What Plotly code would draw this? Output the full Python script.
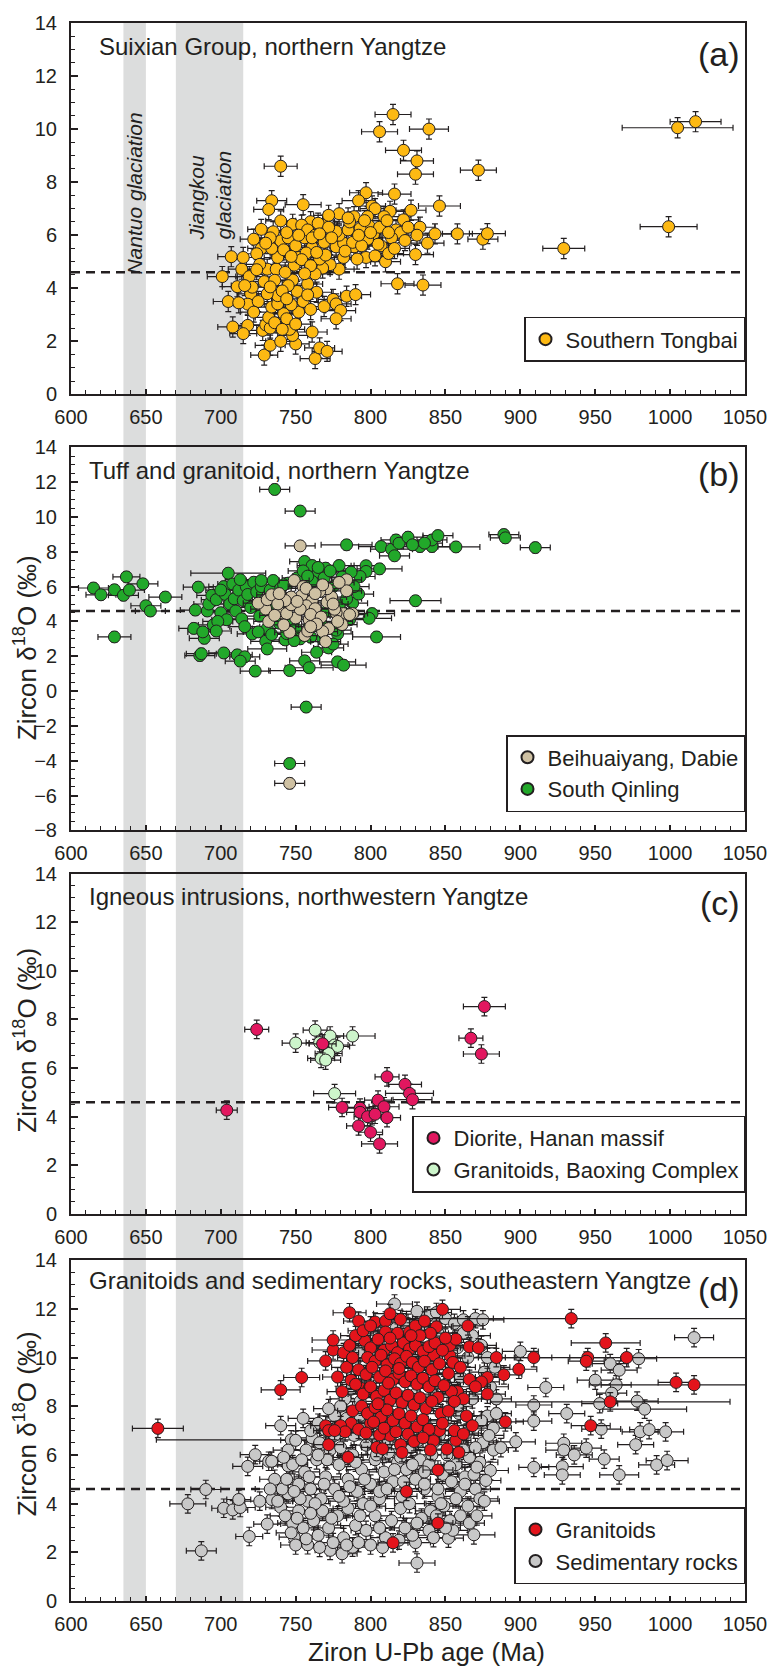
import plotly.graph_objects as go

# ---------------- DATA: (U-Pb age Ma, zircon d18O permil, age 2-sigma Ma) ----------------
d18o_err_a = 0.38
d18o_err_b = 0.30
d18o_err_c = 0.38
d18o_err_d = 0.38

southern_tongbai = [
    (815, 10.55, 12), (806, 9.9, 12), (839, 10.0, 13), (822, 9.2, 12), (831, 8.8, 11), (830, 8.3, 12),
    (740, 8.6, 11), (872, 8.45, 12), (846, 7.1, 14), (816, 7.55, 11), (797, 7.6, 11), (792, 7.3, 11),
    (755, 7.15, 12), (734, 7.3, 10), (732, 6.97, 10), (1005, 10.05, 37), (1017, 10.28, 17), (999, 6.32, 19),
    (929, 5.5, 14), (875, 5.85, 10), (878, 6.06, 12), (858, 6.05, 10), (843, 6.05, 11), (838, 5.7, 11),
    (833, 6.3, 10), (831, 6.0, 11), (827, 6.94, 10), (830, 5.27, 12), (818, 4.17, 11), (835, 4.12, 12),
    (813, 6.9, 10), (801, 7.1, 9), (803, 7.0, 10), (798, 6.7, 10), (779, 6.81, 10), (789, 6.7, 10),
    (809, 6.7, 10), (822, 6.58, 10), (799, 6.35, 10), (793, 6.25, 10), (802, 6.04, 10), (817, 6.2, 10),
    (820, 6.1, 10), (814, 5.9, 10), (807, 5.6, 10),
    (701, 4.44, 10), (707, 5.19, 9), (705, 3.5, 10), (708, 2.54, 10), (711, 4.06, 10), (714, 4.72, 9),
    (715, 5.16, 9), (722, 5.85, 9), (727, 6.22, 9), (719, 4.44, 9), (720, 3.79, 9), (718, 3.4, 9),
    (718, 2.6, 9), (715, 2.29, 9), (729, 1.48, 9), (733, 1.85, 10), (740, 2.0, 10), (750, 1.9, 9),
    (763, 1.35, 10), (766, 1.75, 10), (771, 1.62, 10), (761, 2.35, 10), (748, 2.22, 10), (746, 2.45, 10),
    (728, 2.41, 9), (730, 2.62, 9), (733, 2.5, 9), (732, 2.9, 9), (742, 3.04, 9), (744, 2.85, 9),
    (752, 3.1, 10), (734, 3.29, 9), (738, 3.41, 9), (747, 3.38, 9), (751, 3.88, 10), (764, 3.85, 10),
    (769, 3.31, 10), (775, 3.58, 10), (777, 3.41, 10), (780, 3.16, 10), (777, 2.85, 10), (784, 3.7, 10),
    (790, 3.76, 10), (779, 4.72, 10), (773, 4.89, 10), (768, 4.76, 10), (763, 4.54, 10), (758, 4.16, 10),
    (748, 4.31, 10), (745, 4.1, 10), (738, 3.72, 10), (731, 3.79, 9), (721, 4.04, 9), (729, 4.25, 9),
    (731, 4.72, 9), (737, 4.72, 9), (749, 4.87, 10), (752, 5.16, 10), (738, 5.16, 9), (727, 5.5, 9),
    (734, 5.5, 9), (740, 5.79, 9), (735, 6.13, 10), (740, 6.54, 10), (748, 6.41, 10), (760, 6.51, 10),
    (768, 6.38, 10), (754, 6.38, 10), (777, 5.56, 10), (789, 5.56, 10), (782, 5.7, 10), (779, 6.0, 10),
    (777, 6.14, 10), (769, 5.73, 10), (761, 5.54, 10), (757, 5.33, 10), (754, 5.08, 10), (766, 5.1, 10),
    (782, 5.16, 10), (788, 5.73, 10), (785, 6.2, 10), (797, 5.16, 10), (803, 5.22, 10), (810, 5.0, 10),
    (812, 5.31, 10), (816, 5.5, 10), (805, 5.66, 10), (798, 5.85, 10), (794, 5.6, 10),
    (724, 5.3, 9), (726, 4.9, 9), (733, 5.9, 9), (742, 5.45, 9), (745, 5.9, 10), (744, 6.1, 10),
    (750, 5.6, 10), (756, 5.9, 10), (758, 6.2, 10), (763, 6.0, 10), (765, 6.45, 10), (772, 6.3, 10),
    (786, 6.5, 10), (792, 6.0, 10), (796, 6.55, 10), (806, 6.3, 10), (811, 6.55, 10), (825, 6.3, 10),
    (812, 6.1, 10), (823, 5.8, 10), (770, 5.25, 10), (774, 5.9, 10), (760, 4.85, 10), (743, 4.6, 10),
    (736, 4.3, 9), (725, 3.5, 9), (722, 3.1, 9), (736, 2.7, 9), (741, 2.45, 10), (750, 2.65, 10),
    (755, 3.5, 10), (760, 3.2, 10), (741, 3.9, 10), (756, 4.55, 10), (764, 5.35, 10), (783, 5.4, 10),
    (791, 5.1, 10), (800, 6.1, 10), (785, 6.65, 10), (772, 6.75, 10), (730, 5.7, 9), (752, 6.0, 10),
    (747, 5.2, 10), (724, 4.7, 9), (712, 3.45, 10), (716, 4.1, 9), (744, 3.6, 10), (758, 3.75, 10),
    (733, 4.05, 9), (761, 5.9, 10), (766, 6.05, 10),
]

south_qinling = [
    (615, 5.92, 10), (620, 5.53, 10), (629, 5.82, 10), (635, 5.5, 10), (637, 6.56, 9), (639, 5.8, 10),
    (648, 6.16, 10), (650, 4.9, 10), (653, 4.6, 10), (663, 5.4, 11), (629, 3.11, 11), (685, 5.97, 10),
    (705, 6.77, 25), (682, 3.6, 10), (689, 3.03, 10), (686, 2.04, 10), (687, 2.15, 10), (702, 2.19, 10),
    (711, 2.08, 10), (716, 1.97, 10), (713, 1.72, 10), (723, 1.15, 10), (746, 1.18, 14), (756, 1.74, 10),
    (759, 1.34, 16), (764, 2.23, 10), (772, 2.48, 10), (778, 1.68, 12), (782, 1.49, 15), (721, 3.28, 10),
    (730, 2.86, 10), (731, 2.42, 13), (743, 2.94, 10), (778, 3.28, 10), (782, 4.5, 10), (788, 5.05, 10),
    (792, 5.57, 10), (736, 11.58, 10), (753, 10.34, 10), (757, -0.92, 10), (746, -4.16, 10),
    (784, 8.4, 17), (807, 8.3, 15), (814, 8.15, 14), (816, 7.77, 10), (817, 8.68, 10), (819, 8.49, 12),
    (825, 8.84, 10), (833, 8.3, 12), (841, 8.3, 12), (841, 8.68, 10), (845, 8.93, 10), (857, 8.28, 16),
    (836, 8.5, 12), (828, 8.4, 14), (889, 8.99, 10), (890, 8.8, 10), (910, 8.24, 10), (830, 5.19, 17),
    (804, 3.11, 16), (801, 4.45, 15), (799, 4.18, 15), (806, 7.02, 15), (797, 7.2, 10), (797, 6.87, 10),
    (793, 6.58, 10), (787, 6.83, 10), (779, 7.21, 10), (770, 7.06, 12), (756, 7.44, 10), (761, 7.21, 10),
    (765, 6.83, 10),
    (691, 4.6, 10), (692, 5.0, 10), (694, 5.5, 10), (697, 5.25, 10), (700, 4.5, 10), (702, 6.0, 10),
    (703, 5.55, 10), (704, 4.1, 10), (706, 5.0, 10), (708, 6.15, 10), (709, 5.3, 10), (710, 4.6, 10),
    (712, 5.8, 10), (714, 4.15, 10), (715, 5.2, 10), (717, 6.0, 10), (718, 5.55, 10), (720, 4.8, 10),
    (722, 6.25, 10), (724, 5.7, 10), (726, 4.3, 10), (727, 6.0, 10), (729, 5.1, 10), (731, 3.6, 10),
    (733, 5.8, 10), (735, 6.35, 10), (737, 4.9, 10), (739, 3.9, 10), (740, 5.9, 10), (742, 4.6, 10),
    (744, 3.3, 10), (745, 6.2, 10), (747, 4.1, 10), (750, 3.6, 10), (751, 6.5, 10), (753, 3.0, 10),
    (755, 6.9, 10), (757, 4.7, 10), (759, 3.7, 10), (761, 6.3, 10), (763, 4.3, 10), (765, 7.1, 10),
    (767, 3.9, 10), (769, 6.5, 10), (771, 4.6, 10), (773, 6.9, 10), (775, 6.0, 10), (777, 3.5, 10),
    (779, 4.9, 10), (781, 6.55, 10), (784, 5.3, 10), (786, 4.1, 10), (789, 6.0, 10), (683, 4.65, 10),
    (688, 3.4, 10), (695, 3.8, 10), (698, 4.0, 10), (716, 3.7, 10), (725, 3.4, 10), (734, 3.25, 10),
    (749, 2.9, 10), (760, 3.1, 10), (768, 3.0, 10), (775, 2.7, 10), (700, 5.8, 10), (713, 6.4, 10),
    (727, 6.35, 10), (742, 6.1, 10), (758, 6.6, 10), (697, 3.45, 10),
]

beihuaiyang = [
    (749, 6.35, 10), (755, 6.0, 10), (784, 6.39, 10), (784, 5.76, 10), (782, 4.45, 10), (788, 4.45, 10),
    (777, 4.5, 10), (781, 3.82, 10), (772, 3.59, 10), (768, 3.42, 10), (770, 2.84, 10), (756, 3.19, 10),
    (758, 3.45, 10), (746, 3.38, 10), (741, 4.48, 10), (732, 4.0, 10), (730, 4.71, 10), (725, 5.05, 10),
    (731, 5.25, 10), (734, 5.53, 10), (754, 5.48, 10), (761, 5.19, 10), (757, 4.9, 10), (763, 4.73, 10),
    (771, 5.11, 10), (774, 5.4, 10), (779, 6.24, 10), (771, 5.88, 10), (759, 4.1, 10), (750, 4.2, 10),
    (744, 4.45, 10), (753, 4.7, 10), (766, 5.72, 10), (757, 5.9, 10), (747, 4.96, 10), (747, 5.4, 10),
    (743, 5.2, 10), (760, 4.4, 10), (767, 4.25, 10), (776, 4.7, 10), (786, 4.39, 10), (778, 4.0, 10),
    (753, 8.34, 10), (746, -5.3, 10), (738, 5.0, 10), (742, 3.8, 10), (764, 3.85, 10), (768, 6.1, 10),
    (775, 5.0, 10), (763, 5.6, 10), (751, 5.15, 10), (736, 4.35, 10), (760, 3.7, 10), (739, 5.6, 10),
]

hanan_diorite = [
    (704, 4.27, 7), (724, 7.59, 8), (768, 7.0, 9), (781, 4.38, 9), (793, 4.35, 9), (793, 4.18, 9),
    (792, 3.62, 8), (800, 3.36, 8), (806, 2.88, 12), (801, 4.04, 9), (805, 4.68, 9), (809, 4.41, 10),
    (811, 3.96, 9), (798, 4.0, 9), (803, 4.1, 9), (811, 5.64, 8), (823, 5.33, 11), (826, 4.96, 16),
    (828, 4.7, 13), (867, 7.23, 8), (874, 6.58, 12), (876, 8.53, 14),
]

baoxing_granitoids = [
    (750, 7.03, 9), (763, 7.56, 8), (773, 7.32, 9), (776, 6.95, 9), (778, 6.89, 8), (788, 7.32, 15),
    (767, 6.4, 9), (772, 6.6, 9), (770, 6.33, 10), (776, 4.95, 14), (766, 7.05, 9),
]

se_granitoids = [
    (658, 7.09, 17), (740, 8.67, 13), (754, 9.18, 12), (770, 9.86, 12), (775, 10.31, 14), (775, 10.72, 14),
    (786, 11.84, 11), (792, 11.5, 10), (803, 11.46, 10), (810, 11.5, 10), (813, 11.8, 11), (820, 11.56, 10),
    (826, 11.05, 11), (848, 11.98, 12), (844, 11.26, 10), (865, 11.3, 10), (810, 11.05, 10), (934, 11.6, 120),
    (1004, 8.98, 12), (1016, 8.88, 70), (945, 10.0, 12), (944, 9.85, 12), (957, 10.6, 23), (971, 10.0, 90),
    (947, 7.2, 13), (960, 8.18, 80), (909, 10.0, 12), (899, 9.52, 12), (889, 9.29, 12), (884, 10.0, 12),
    (878, 9.18, 12), (874, 9.0, 12), (878, 8.5, 12), (890, 7.36, 12), (866, 10.44, 12), (872, 10.4, 12),
    (858, 8.6, 10), (854, 8.6, 10), (852, 9.34, 10), (853, 10.07, 10), (853, 10.5, 10), (857, 10.75, 10),
    (842, 10.1, 10), (845, 8.36, 10), (846, 7.0, 10), (842, 6.58, 10), (851, 6.24, 10), (857, 6.6, 10),
    (856, 7.0, 10), (859, 6.1, 10), (862, 6.86, 10), (845, 5.38, 10), (824, 4.5, 10), (845, 3.2, 10),
    (815, 2.39, 10), (785, 5.9, 10), (772, 6.42, 10), (770, 7.2, 10), (772, 7.0, 10), (788, 7.81, 10),
    (787, 9.07, 10), (794, 8.73, 10), (799, 8.73, 10), (800, 7.3, 10), (804, 6.31, 10), (808, 6.25, 10),
    (813, 6.8, 10), (806, 6.82, 10), (820, 6.42, 10),
    (796, 10.7, 10), (800, 10.4, 10), (805, 10.75, 10), (809, 10.3, 10), (814, 10.5, 10), (818, 10.2, 10),
    (822, 10.6, 10), (826, 10.35, 10), (830, 10.5, 10), (835, 10.25, 10), (839, 10.45, 10), (843, 10.6, 10),
    (848, 10.3, 10), (798, 10.0, 10), (803, 9.85, 10), (807, 10.1, 10), (811, 9.7, 10), (816, 9.95, 10),
    (820, 9.75, 10), (824, 10.05, 10), (828, 9.8, 10), (832, 9.6, 10), (836, 9.85, 10), (841, 9.5, 10),
    (846, 9.75, 10), (792, 9.5, 10), (797, 9.3, 10), (801, 9.6, 10), (806, 9.2, 10), (810, 9.45, 10),
    (815, 9.1, 10), (819, 9.35, 10), (823, 9.0, 10), (827, 9.25, 10), (831, 8.9, 10), (835, 9.15, 10),
    (839, 8.8, 10), (843, 9.05, 10), (849, 8.85, 10), (790, 8.9, 10), (795, 8.5, 10), (800, 8.8, 10),
    (804, 8.4, 10), (809, 8.65, 10), (813, 8.25, 10), (817, 8.55, 10), (821, 8.15, 10), (825, 8.45, 10),
    (829, 8.05, 10), (833, 8.35, 10), (837, 7.9, 10), (841, 8.2, 10), (847, 7.7, 10), (794, 8.0, 10),
    (798, 7.7, 10), (803, 7.95, 10), (807, 7.55, 10), (811, 7.85, 10), (815, 7.4, 10), (819, 7.7, 10),
    (823, 7.3, 10), (827, 7.6, 10), (831, 7.15, 10), (835, 7.45, 10), (839, 7.05, 10), (787, 7.3, 10),
    (792, 7.05, 10), (797, 6.9, 10), (802, 7.35, 10), (809, 7.1, 10), (817, 6.95, 10), (825, 6.85, 10),
    (829, 6.55, 10), (780, 7.2, 10), (783, 6.95, 10), (776, 7.0, 10), (782, 10.2, 10), (786, 10.5, 10),
    (790, 10.9, 10), (795, 11.1, 10), (800, 11.3, 10), (818, 11.0, 10), (830, 11.3, 10), (836, 11.5, 10),
    (840, 11.0, 10), (833, 10.9, 10), (850, 10.8, 10), (855, 9.8, 10), (860, 9.6, 10), (862, 8.3, 10),
    (866, 9.1, 10), (870, 8.8, 10), (864, 7.6, 10), (868, 7.2, 10), (852, 7.8, 10), (848, 7.3, 10),
    (856, 8.2, 10), (781, 8.6, 10), (784, 9.6, 10), (778, 9.2, 10), (788, 10.0, 10), (835, 6.7, 10),
    (840, 6.2, 10), (821, 6.1, 10), (813, 10.8, 10), (827, 10.9, 10), (805, 8.1, 10), (819, 9.55, 10),
    (812, 8.95, 10),
]

se_sedimentary = [
    (678, 3.99, 12), (690, 4.58, 10), (687, 2.06, 10), (702, 3.81, 8), (708, 3.74, 10), (713, 3.84, 10),
    (712, 4.17, 8), (719, 2.65, 9), (718, 5.53, 10), (723, 6.01, 10), (732, 5.74, 10), (734, 5.74, 8),
    (734, 4.17, 10), (731, 3.16, 9), (740, 7.2, 10), (740, 3.85, 10), (745, 5.55, 10), (755, 7.5, 10),
    (747, 6.62, 90), (917, 8.77, 12), (909, 8.05, 12), (909, 7.39, 12), (900, 10.25, 12), (897, 6.54, 13),
    (909, 5.49, 10), (931, 7.7, 12), (929, 6.48, 12), (929, 6.2, 12), (928, 5.52, 14), (928, 5.18, 12),
    (936, 6.0, 12), (944, 6.28, 10), (956, 5.83, 10), (954, 7.06, 13), (953, 8.11, 12), (950, 9.07, 12),
    (960, 9.75, 12), (966, 9.48, 12), (964, 8.88, 10), (961, 8.54, 10), (966, 5.18, 13), (979, 9.95, 12),
    (978, 8.21, 14), (983, 7.88, 28), (977, 6.42, 12), (980, 6.95, 12), (986, 7.04, 13), (997, 6.95, 12),
    (991, 5.59, 12), (998, 5.77, 14), (1016, 10.82, 13), (880, 5.36, 12), (869, 2.72, 14), (852, 2.58, 10),
    (831, 1.56, 12), (830, 2.4, 10), (828, 2.7, 10), (800, 2.3, 10), (781, 1.94, 10), (773, 2.08, 10),
    (788, 2.21, 10), (758, 2.31, 10), (749, 2.62, 10),
    (816, 12.2, 12), (831, 11.9, 10), (838, 11.7, 10), (844, 11.85, 10), (850, 11.6, 10), (856, 11.4, 12),
    (862, 11.55, 10), (870, 11.6, 12), (875, 11.55, 14), (868, 10.9, 12), (874, 10.5, 10), (878, 10.0, 12),
    (876, 9.4, 10), (880, 8.8, 12), (883, 9.6, 10), (884, 8.3, 10), (878, 7.6, 10), (882, 7.1, 12),
    (875, 6.5, 10), (870, 6.3, 10), (882, 6.2, 10), (873, 5.7, 12), (877, 4.95, 10), (870, 4.6, 10),
    (873, 4.2, 12), (865, 3.9, 10), (860, 4.5, 10), (860, 3.5, 10), (853, 3.3, 10), (849, 3.9, 10),
    (845, 4.3, 10), (840, 3.7, 10), (836, 4.6, 10), (834, 3.4, 12), (839, 2.9, 10), (823, 3.0, 10),
    (820, 3.8, 10), (814, 3.3, 10), (810, 2.6, 10), (806, 4.2, 10), (803, 3.5, 10), (797, 2.9, 10),
    (795, 4.0, 10), (790, 3.1, 10), (785, 3.8, 10), (782, 2.6, 10), (778, 3.5, 10), (775, 2.4, 10),
    (772, 3.0, 10), (768, 3.7, 10), (765, 2.7, 10), (762, 3.3, 10), (758, 4.1, 10), (755, 3.0, 10),
    (752, 3.7, 10), (750, 2.3, 10), (748, 3.2, 10), (745, 4.4, 10), (752, 4.8, 10), (748, 5.6, 10),
    (756, 5.3, 10), (760, 4.6, 10), (764, 5.8, 10), (767, 4.2, 10), (770, 5.1, 10), (773, 6.2, 10),
    (776, 4.6, 10), (779, 5.6, 10), (782, 4.1, 10), (785, 5.0, 10), (788, 6.0, 10), (791, 4.5, 10),
    (794, 5.4, 10), (797, 6.4, 10), (800, 4.8, 10), (803, 5.8, 10), (806, 4.5, 10), (809, 5.3, 10),
    (812, 6.1, 10), (815, 4.9, 10), (818, 5.7, 10), (821, 4.3, 10), (824, 5.4, 10), (827, 6.3, 10),
    (830, 5.0, 10), (833, 5.8, 10), (836, 4.8, 10), (839, 5.6, 10), (842, 6.5, 10), (845, 4.6, 10),
    (848, 5.2, 10), (851, 6.0, 10), (854, 4.9, 10), (857, 5.6, 10), (860, 6.4, 10), (863, 5.1, 10),
    (866, 5.9, 10), (869, 5.2, 10), (757, 6.2, 10), (761, 6.7, 10), (766, 6.5, 10), (770, 7.0, 10),
    (765, 7.3, 10), (760, 7.0, 10), (776, 6.8, 10), (780, 6.3, 10), (784, 7.5, 10), (789, 6.8, 10),
    (793, 7.6, 10), (797, 7.2, 10), (801, 6.9, 10), (805, 7.7, 10), (811, 6.5, 10), (816, 7.1, 10),
    (820, 5.9, 10), (824, 6.8, 10), (828, 7.9, 10), (832, 6.6, 10), (837, 7.2, 10), (841, 6.0, 10),
    (846, 6.8, 10), (850, 7.4, 10), (855, 6.5, 10), (859, 7.7, 10), (864, 6.9, 10), (868, 8.3, 10),
    (858, 8.0, 10), (850, 8.9, 10), (860, 9.2, 10), (865, 10.0, 10), (858, 10.4, 10), (862, 11.0, 10),
    (845, 11.0, 10), (835, 11.2, 10), (825, 11.4, 10), (817, 11.2, 10), (806, 11.0, 10), (798, 10.5, 10),
    (792, 10.2, 10), (788, 9.4, 10), (783, 8.3, 10), (787, 8.7, 10), (780, 8.0, 10), (776, 7.6, 10),
    (772, 7.9, 10), (793, 8.2, 10), (800, 9.0, 10), (810, 8.0, 10), (830, 8.5, 10), (840, 9.3, 10),
    (825, 9.8, 10), (805, 10.1, 10), (815, 10.0, 10), (835, 10.0, 10), (771, 5.8, 10), (741, 4.6, 10),
    (744, 5.0, 10), (738, 4.1, 10), (743, 3.5, 10), (747, 2.8, 10), (757, 2.55, 10), (766, 2.2, 10),
    (784, 2.3, 10), (792, 2.4, 10), (808, 2.2, 10), (819, 2.5, 10), (842, 2.6, 10), (855, 2.9, 10),
    (866, 3.2, 10), (871, 3.5, 10), (876, 4.1, 10), (800, 3.9, 10), (811, 4.6, 10), (826, 4.0, 10),
    (831, 3.2, 10), (844, 3.5, 10), (857, 4.2, 10), (793, 3.5, 10), (779, 4.3, 10), (763, 4.0, 10),
    (753, 4.2, 10), (816, 5.4, 10), (836, 5.3, 10), (804, 6.0, 10), (790, 5.7, 10), (754, 5.8, 10),
    (759, 5.1, 10), (786, 4.7, 10), (822, 4.9, 10), (847, 4.0, 10), (863, 4.8, 10), (850, 3.0, 10),
    (806, 3.0, 10), (774, 3.4, 10), (760, 3.6, 10), (751, 3.4, 10), (749, 4.5, 10), (769, 4.8, 10),
    (796, 5.0, 10), (828, 5.6, 10), (853, 5.5, 10), (871, 5.5, 10), (879, 6.8, 10), (874, 7.4, 10),
    (884, 7.7, 10), (887, 6.3, 10), (862, 6.2, 10), (765, 6.0, 10), (745, 6.2, 10), (750, 6.6, 10),
    (742, 5.9, 10), (736, 5.0, 10), (733, 4.6, 10), (726, 4.1, 10),
]

glaciations = [("Nantuo", 635, 650), ("Jiangkou", 670, 715)]
mantle_d18o = 4.6
x_ticks = [600, 650, 700, 750, 800, 850, 900, 950, 1000, 1050]

# ---------------- STYLE ----------------
INK = '#231f20'
FONT = 'Liberation Sans, Arial, sans-serif'
W, H = 779, 1674
ML, MR, MT, MB = 71, 31, 13, 73
PW, PH = W - ML - MR, H - MT - MB


def px_x(p):
    return (p - ML) / PW


def px_y(p):
    return (H - MB - p) / PH


fig = go.Figure()


def add(points, name, color, n, yerr, legend, rank):
    fig.add_trace(go.Scatter(
        x=[p[0] for p in points], y=[p[1] for p in points], mode='markers', name=name,
        xaxis='x' if n == 1 else f'x{n}', yaxis='y' if n == 1 else f'y{n}',
        legend=legend, legendrank=rank, showlegend=True,
        marker=dict(size=12, color=color, line=dict(color=INK, width=1)),
        error_x=dict(type='data', array=[p[2] for p in points], color=INK, thickness=1.2, width=3),
        error_y=dict(type='constant', value=yerr, color=INK, thickness=1.2, width=3),
    ))


add(southern_tongbai, 'Southern Tongbai', '#fdb913', 1, d18o_err_a, 'legend', 1)
add(south_qinling, 'South Qinling', '#22a82a', 2, d18o_err_b, 'legend2', 2)
add(beihuaiyang, 'Beihuaiyang, Dabie', '#cfc1a3', 2, d18o_err_b, 'legend2', 1)
add(baoxing_granitoids, 'Granitoids, Baoxing Complex', '#cdf5cb', 3, d18o_err_c, 'legend3', 2)
add(hanan_diorite, 'Diorite, Hanan massif', '#e2175f', 3, d18o_err_c, 'legend3', 1)
add(se_sedimentary, 'Sedimentary rocks', '#c8c8c8', 4, d18o_err_d, 'legend4', 2)
add(se_granitoids, 'Granitoids', '#e3141b', 4, d18o_err_d, 'legend4', 1)

domains = {1: (px_y(386.7), 1.0), 2: (px_y(825.5), px_y(440)), 3: (px_y(1211.5), px_y(869)), 4: (0.0, px_y(1258))}
yranges = {1: [0, 14], 2: [-8, 14], 3: [0, 14], 4: [0, 14]}

layout = dict(
    width=W, height=H, margin=dict(l=ML, r=MR, t=MT, b=MB),
    paper_bgcolor='white', plot_bgcolor='rgba(0,0,0,0)',
    font=dict(family=FONT, color=INK),
    showlegend=True,
)

for n in range(1, 5):
    xs = 'xaxis' if n == 1 else f'xaxis{n}'
    ys = 'yaxis' if n == 1 else f'yaxis{n}'
    layout[xs] = dict(
        domain=[0, 1], anchor='y' if n == 1 else f'y{n}', range=[600, 1050],
        tickvals=x_ticks, ticks='inside', ticklen=5, tickwidth=1.5, tickcolor=INK,
        showline=True, linecolor=INK, linewidth=2, mirror=True, showgrid=False, zeroline=False,
        tickfont=dict(size=20, family=FONT, color=INK), ticklabelstandoff=4,
        minor=dict(dtick=10, tick0=600, ticks='inside', ticklen=4, tickwidth=1.2, tickcolor=INK, showgrid=False),
    )
    layout[ys] = dict(
        domain=list(domains[n]), anchor='x' if n == 1 else f'x{n}', range=yranges[n],
        dtick=2, tick0=0, ticks='inside', ticklen=7, tickwidth=1.5, tickcolor=INK,
        showline=True, linecolor=INK, linewidth=2, mirror=True, showgrid=False, zeroline=False,
        tickfont=dict(size=20, family=FONT, color=INK), ticklabelstandoff=8,
        minor=dict(dtick=0.5, ticks='inside', ticklen=4, tickwidth=1.2, tickcolor=INK, showgrid=False),
    )

leg_common = dict(x=1, xanchor='right', yanchor='bottom', bordercolor=INK, borderwidth=1.5,
                  bgcolor='white', font=dict(size=22, family=FONT, color=INK), itemsizing='constant',
                  tracegroupgap=0)
layout['legend'] = dict(leg_common, y=px_y(354))
layout['legend2'] = dict(leg_common, y=px_y(807))
layout['legend3'] = dict(leg_common, y=px_y(1190))
layout['legend4'] = dict(leg_common, y=px_y(1584))

shapes = []
for _, a0, a1 in glaciations:
    shapes.append(dict(type='rect', xref='x', yref='paper', x0=a0, x1=a1, y0=0, y1=1,
                       fillcolor='#dcdddd', line=dict(width=0), layer='below'))
for n in range(1, 5):
    shapes.append(dict(type='line', xref='x' if n == 1 else f'x{n}', yref='y' if n == 1 else f'y{n}',
                       x0=600, x1=1050, y0=mantle_d18o, y1=mantle_d18o,
                       line=dict(color=INK, width=2.5, dash='9px,6px'), layer='below'))
layout['shapes'] = shapes

ann = []
titles = [
    ('Suixian Group, northern Yangtze', 97, 37, '(a)', 44),
    ('Tuff and granitoid, northern Yangtze', 87, 463, '(b)', 467),
    ('Igneous intrusions, northwestern Yangtze', 87, 892, '(c)', 899),
    ('Granitoids and sedimentary rocks, southeastern Yangtze', 87, 1278, '(d)', 1287),
]
for t, tx, ty, lab, ly in titles:
    ann.append(dict(text=t, xref='paper', yref='paper', x=px_x(tx), y=px_y(ty), xanchor='left',
                    yanchor='middle', showarrow=False, font=dict(size=24, family=FONT, color=INK)))
    ann.append(dict(text=lab, xref='paper', yref='paper', x=px_x(745), y=px_y(ly), xanchor='right',
                    yanchor='middle', showarrow=False, font=dict(size=34, family=FONT, color=INK)))

ann.append(dict(text='<i>Nantuo glaciation</i>', xref='x', yref='paper', x=642.5, y=px_y(185),
                xanchor='center', yanchor='middle',
                textangle=-90, showarrow=False, font=dict(size=21, family=FONT, color=INK)))
ann.append(dict(text='<i>Jiangkou</i><br><i>glaciation</i>', xref='x', yref='paper', x=692.5, y=px_y(187),
                xanchor='center', yanchor='middle',
                textangle=-90, align='left', showarrow=False, font=dict(size=21, family=FONT, color=INK)))

for yc in (642, 1037, 1423):
    ann.append(dict(text='Zircon δ<sup>18</sup>O (‰)', xref='paper', yref='paper', x=px_x(25), y=px_y(yc),
                    xanchor='center', yanchor='middle',
                    textangle=-90, showarrow=False, font=dict(size=26, family=FONT, color=INK)))

ann.append(dict(text='Ziron U-Pb age (Ma)', xref='paper', yref='paper', x=px_x(428), y=px_y(1652),
                xanchor='center', yanchor='middle', showarrow=False, font=dict(size=26, family=FONT, color=INK)))
layout['annotations'] = ann

fig.update_layout(**layout)
fig.write_html('out.html')
